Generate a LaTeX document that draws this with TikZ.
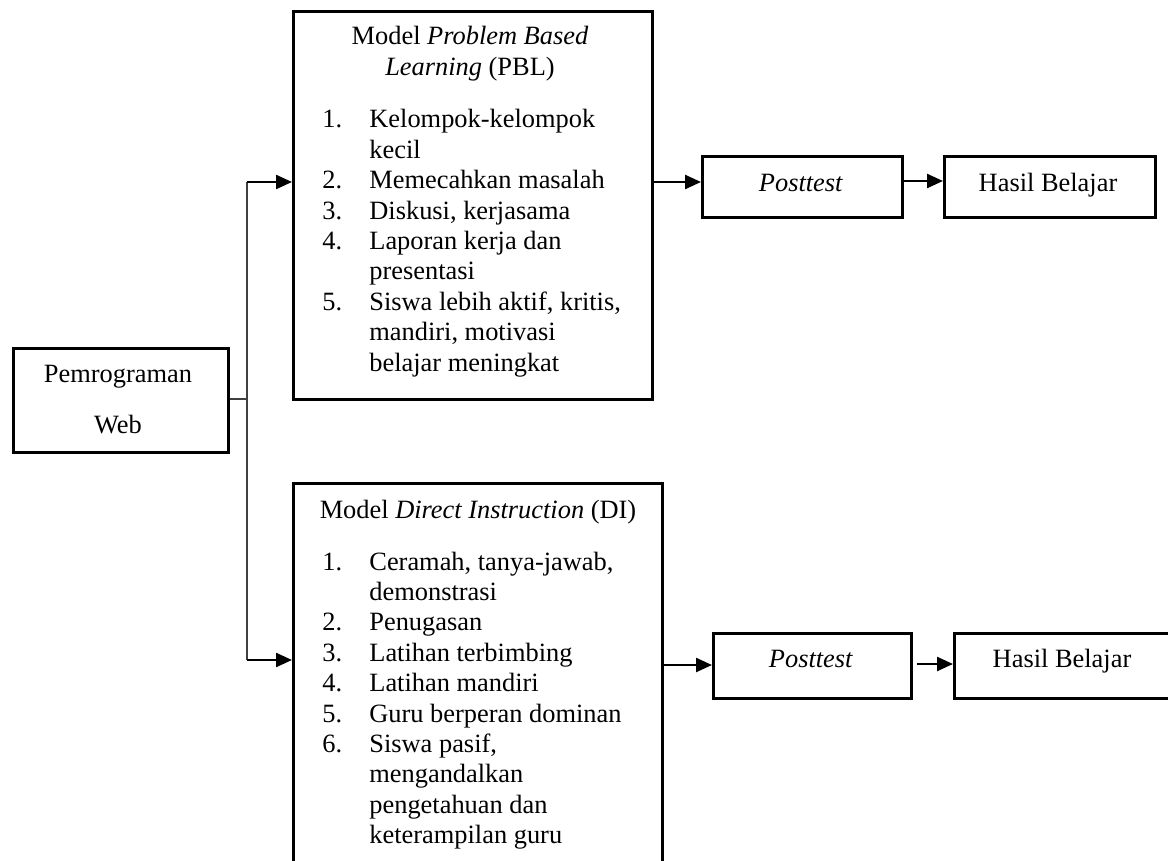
\documentclass[tikz,border=0pt]{standalone}
\usepackage{fontspec}
\setmainfont{Liberation Serif}
\usetikzlibrary{arrows.meta}
\begin{document}
\begin{tikzpicture}[x=0.5pt,y=-0.5pt,
  every node/.style={font=\fontsize{13.2}{15.2}\selectfont, inner sep=0pt},
  box/.style={draw, line width=1.3pt, rectangle, anchor=north west},
  txt/.style={anchor=base},
  arr/.style={line width=1.2pt, -{Triangle[length=8pt,width=7pt]}},
  thinline/.style={line width=0.6pt, draw=black!75}]
\useasboundingbox (0,0) rectangle (1168,861);
\clip (0,0) rectangle (1168,861);
% boxes
\node[box, minimum width=107.5pt, minimum height=52pt] (web) at (12,347) {};
\node[box, minimum width=179.5pt, minimum height=194pt] (pbl) at (292,10) {};
\node[box, minimum width=184.5pt, minimum height=209pt] (di) at (292,482) {};
\node[box, minimum width=100pt, minimum height=30.5pt] (post1) at (701,155) {};
\node[box, minimum width=105.5pt, minimum height=30.5pt] (hasil1) at (943,155) {};
\node[box, minimum width=99pt, minimum height=32.5pt] (post2) at (712,632) {};
\node[box, minimum width=109pt, minimum height=32.5pt] (hasil2) at (953,632) {};
% texts
\node[txt] (webtxt) at (118,383) {\begin{tabular}[t]{@{}c@{}}Pemrograman\\[9.8pt]Web\end{tabular}};
\node[txt] (pbltitle) at (470,45) {\begin{tabular}[t]{@{}c@{}}Model \textit{Problem Based}\\ \textit{Learning} (PBL)\end{tabular}};
\node[txt, anchor=base west] (pbllist) at (322,128) {\begin{tabular}[t]{@{}p{23.5pt}@{}l@{}}
1. & Kelompok-kelompok\\
   & kecil\\
2. & Memecahkan masalah\\
3. & Diskusi, kerjasama\\
4. & Laporan kerja dan\\
   & presentasi\\
5. & Siswa lebih aktif, kritis,\\
   & mandiri, motivasi\\
   & belajar meningkat
\end{tabular}};
\node[txt] (dititle) at (478,518) {Model \textit{Direct Instruction} (DI)};
\node[txt, anchor=base west] (dilist) at (322,570) {\begin{tabular}[t]{@{}p{23.5pt}@{}l@{}}
1. & Ceramah, tanya-jawab,\\
   & demonstrasi\\
2. & Penugasan\\
3. & Latihan terbimbing\\
4. & Latihan mandiri\\
5. & Guru berperan dominan\\
6. & Siswa pasif,\\
   & mengandalkan\\
   & pengetahuan dan\\
   & keterampilan guru
\end{tabular}};
\node[txt] (post1txt) at (801,192) {\textit{Posttest}};
\node[txt] (hasil1txt) at (1048,192) {Hasil Belajar};
\node[txt] (post2txt) at (811,667) {\textit{Posttest}};
\node[txt] (hasil2txt) at (1062,667) {Hasil Belajar};
% connectors
\coordinate (split) at (247,399);
\coordinate (top) at (247,182);
\coordinate (bot) at (247,660);
\coordinate (r1) at (0,182);
\coordinate (r1b) at (0,181);
\coordinate (r2) at (0,665);
\coordinate (s2) at (917,664);
\draw[thinline] (web.east |- split) -- (split);
\draw[thinline] (top) -- (bot);
\draw[arr] (top) -- (pbl.west |- top);
\draw[arr] (bot) -- (di.west |- bot);
\draw[arr] (pbl.east |- r1) -- (post1.west |- r1);
\draw[arr] (post1.east |- r1b) -- (hasil1.west |- r1b);
\draw[arr] (di.east |- r2) -- (post2.west |- r2);
\draw[arr] (s2) -- (hasil2.west |- s2);
\end{tikzpicture}
\end{document}
